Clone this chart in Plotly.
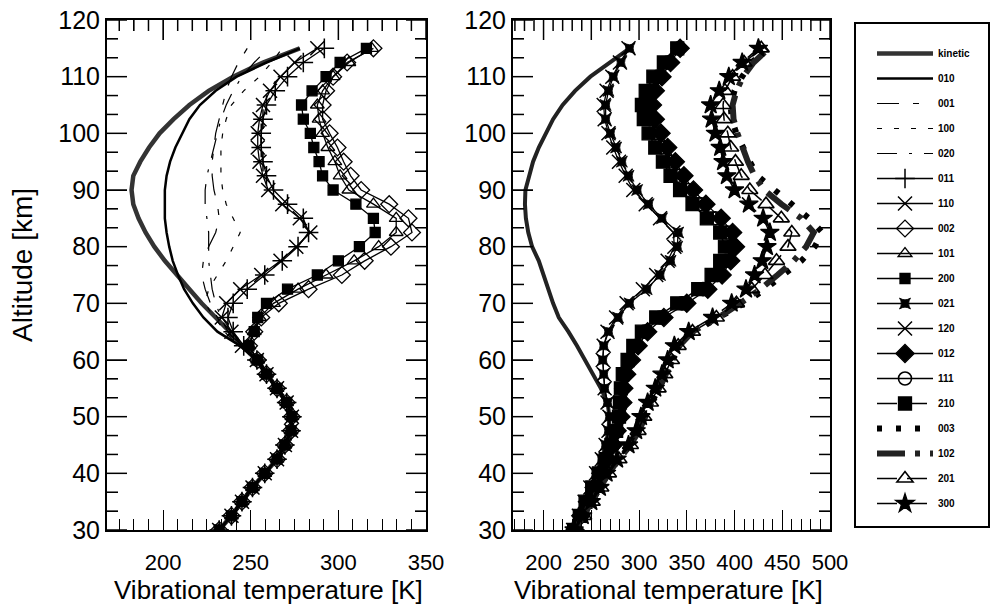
import plotly.graph_objects as go

# ---------------- data ----------------
alt = [30 + 2.5 * i for i in range(35)]

# left panel
kin_L = [232, 239, 245, 251, 258, 265, 269.5, 273, 273.5, 270.5, 265, 259, 253.5, 245, 238, 230, 222, 215,
         208, 201, 195, 190, 186, 183, 182, 183, 187, 192, 198, 206, 215, 226, 240, 257, 278]
v010 = [232, 239, 245, 251, 258, 265, 269.5, 273, 273.5, 270.5, 265, 259, 253.5, 244, 231, 223, 217, 212,
        208.5, 205.5, 203.5, 202, 201, 201, 201, 202, 204, 207, 211, 215, 221, 230, 242, 259, 278]
v001 = [232, 239, 245, 251, 258, 265, 269.5, 273, 273.5, 270.5, 265, 259, 253.5, 243, 235, 231, 227, 224,
        222, 223, 226, 230, 232, 231, 229, 228, 228, 229, 230, 232, 234, 236, 239, 243, 248]
v100 = [232, 239, 245, 251, 258, 265, 269.5, 273, 273.5, 270.5, 265, 259, 253.5, 244, 236, 229, 224, 226,
        231, 236, 240, 244, 240, 236, 234, 233, 233, 233, 234, 236, 239, 246, 255, 262, 268]
v020 = [232, 239, 245, 251, 258, 265, 269.5, 273, 273.5, 270.5, 265, 259, 253.5, 244, 237, 233, 230, 228,
        227, 226, 226, 226, 225, 224, 224, 225, 227, 229, 231, 233, 236, 240, 245, 252, 260]
v011 = [232, 239, 245, 251, 258, 265, 269.5, 273, 273.5, 270.5, 265, 259, 253.5, 246, 240, 237, 240, 248,
        258, 268, 277, 283, 280, 271, 263, 259, 257, 256, 256, 257, 259, 264, 271, 280, 292]
v110 = [232, 239, 245, 251, 258, 265, 269.5, 273, 273.5, 270.5, 265, 259, 253.5, 245, 239, 233.5, 236, 244,
        256, 267, 276, 284, 278, 268, 260, 257, 255, 254, 254, 255, 257, 261, 267, 275, 288]
v002 = [232, 239, 245, 251, 258, 265, 269.5, 273, 273.5, 270.5, 265, 259, 254, 249, 252, 256, 266, 283,
        302, 315, 330, 342, 340, 329, 313, 307, 303, 299.5, 295, 291, 291, 293, 297, 305, 320]
v101 = [232, 239, 245, 251, 258, 265, 269.5, 273, 273.5, 270.5, 265, 259, 254, 249, 252, 255, 263, 277,
        293, 309, 323, 333, 333, 320, 306, 301, 298, 294, 291, 289, 288, 291, 297, 306, 319]
v200 = [232, 239, 245, 251, 258, 265, 269.5, 273, 273.5, 270.5, 265, 259, 254, 249, 252, 254, 259, 271,
        288, 300, 312, 321, 320, 310, 297, 291, 289, 286, 284, 280, 279, 285, 293, 301, 316]

# right panel
kin_R = [231, 237, 243, 249, 255, 261, 265, 268, 269, 267, 260, 252, 244, 235, 226, 216, 210, 205,
         201, 195, 188, 184, 181.5, 180.5, 181, 184.5, 189, 195, 202, 210, 220, 233, 249, 270, 290]
v021 = [231, 237, 243, 249, 255, 261, 265, 268, 269, 267, 264, 263, 262, 263, 268, 278, 290, 308,
        322, 333, 340, 341, 324, 310, 298, 289, 282, 276, 270, 265, 265, 268, 273, 281, 290]
v120 = [231, 237, 243, 249, 255, 261, 265, 268, 269, 267, 264, 263, 262, 263, 267, 276, 287, 304,
        318, 330, 337, 336, 322, 307, 294, 286, 279, 273, 268, 264, 263, 266, 272, 280, 289]
v012 = [233, 239, 246, 253, 260, 267, 273, 277, 281, 283, 284, 287, 292, 299, 309, 326, 350, 372,
        387, 396, 401, 398, 386, 370, 357, 347, 338, 330, 323, 317, 314, 317, 324, 333, 343]
v111 = [233, 239, 246, 253, 260, 267, 273, 277, 280, 281, 282, 285, 290, 297, 306, 322, 345, 367,
        382, 391, 396, 393, 380, 364, 351, 341, 332, 324, 317, 311, 309, 312, 320, 330, 342]
v210 = [232, 238, 244, 251, 258, 265, 271, 276, 279, 280, 281, 283, 288, 294, 303, 318, 340, 362,
        376, 385, 390, 385, 371, 356, 343, 333, 325, 317, 310, 305, 303, 307, 315, 326, 340]
v003 = [233, 242, 251, 260, 268, 279, 291, 300, 306, 313, 321, 328, 335, 342, 357, 385, 410, 432,
        452, 470, 484, 492, 478, 460, 441, 424, 416, 409, 402, 397, 396, 400, 408, 418, 434]
v102 = [233, 242, 251, 260, 268, 279, 291, 300, 306, 313, 321, 328, 335, 342, 356, 383, 406, 427,
        445, 462, 475, 483, 470, 449, 431, 421, 414, 408, 403, 399, 398, 402, 409, 420, 436]
v201 = [233, 242, 251, 260, 268, 279, 291, 299, 305, 312, 320, 327, 334, 341, 356, 381, 402, 418,
        432, 444, 456, 460, 449, 433, 416, 407, 401, 396, 393, 389, 388, 390, 398, 410, 428]
v300 = [232, 241, 250, 259, 266, 277, 289, 297, 302, 309, 317, 324, 330, 337, 352, 377, 397, 412,
        421, 429, 434, 437, 430, 415, 400, 392, 388, 385, 380, 376, 375, 384, 394, 408, 425]

x_ticks_L = [200, 250, 300, 350]
x_ticks_R = [200, 250, 300, 350, 400, 450, 500]
y_ticks = [30, 40, 50, 60, 70, 80, 90, 100, 110, 120]
x_title = "Vibrational temperature [K]"
y_title = "Altitude [km]"

# ---------------- figure ----------------
W, H = 992, 609
fig = go.Figure()
BLK = "#000000"

XL = [168, 350]
XR = [168, 500]
YR = [30, 120]
DOM_L = [107 / W, 426 / W]
DOM_R = [513 / W, 830 / W]
y_dom = [1 - 530 / H, 1 - 20 / H]
plot_h = (y_dom[1] - y_dom[0]) * H


def add(x, name, xa, ya, show=True, group=None, line=None, marker=None, mode="lines"):
    fig.add_trace(go.Scatter(
        x=x, y=alt, name=name, xaxis=xa, yaxis=ya, mode=mode,
        line=line or dict(color=BLK, width=1.3),
        marker=marker, showlegend=show, legendgroup=group or name,
        hoverinfo="skip"))


def mk(symbol, size=11, lw=1.3):
    return dict(symbol=symbol, size=size, color=BLK, line=dict(color=BLK, width=lw))


add(kin_L, "kinetic", "x", "y", line=dict(color="#333333", width=4.5))
add(kin_R, "kinetic", "x2", "y2", show=False, group="kinetic", line=dict(color="#222222", width=4))
add(v010, "010", "x", "y", line=dict(color=BLK, width=2.5))
add(v001, "001", "x", "y", line=dict(color=BLK, width=1.2, dash="22px,14px,6px,14px"))
add(v100, "100", "x", "y", line=dict(color=BLK, width=1.2, dash="5px,12px"))
add(v020, "020", "x", "y", line=dict(color=BLK, width=1.2, dash="20px,12px,3px,12px"))
add(v011, "011", "x", "y", mode="lines+markers", marker=mk("cross-thin", 14, lw=1.5))
add(v110, "110", "x", "y", mode="lines+markers", marker=mk("x-thin", 14, lw=1.5))
add(v002, "002", "x", "y", mode="lines+markers", marker=mk("diamond-open", 13))
add(v101, "101", "x", "y", mode="lines+markers", marker=mk("triangle-up-open", 12))
add(v200, "200", "x", "y", mode="lines+markers", marker=mk("square", 10))

add(v021, "021", "x2", "y2", mode="lines+markers", marker=mk("star-square", 10, lw=0.8))
add(v120, "120", "x2", "y2", mode="lines+markers", marker=mk("x-thin", 14, lw=1.5))
add(v012, "012", "x2", "y2", mode="lines+markers", marker=mk("diamond", 14))
add(v111, "111", "x2", "y2", mode="lines+markers", marker=mk("circle-open", 13, lw=1.6))
add(v210, "210", "x2", "y2", mode="lines+markers", marker=mk("square", 13),
    line=dict(color=BLK, width=1.5, dash="20px,10px"))
add(v003, "003", "x2", "y2", line=dict(color=BLK, width=6, dash="5px,14px"))
add(v102, "102", "x2", "y2", line=dict(color="#222222", width=6, dash="28px,10px,5px,10px"))
add(v201, "201", "x2", "y2", mode="lines+markers", marker=mk("triangle-up-open", 14, lw=1.6),
    line=dict(color=BLK, width=1.5, dash="20px,10px"))
add(v300, "300", "x2", "y2", mode="lines+markers", marker=mk("star", 14),
    line=dict(color=BLK, width=1.5, dash="20px,10px"))


# ---- inside ticks on the left/right/top frame edges, as shapes in data coordinates ----
def frame_tick_shapes(xref, yref, xr, dom, major_x, minor_x_step, minor_x0):
    plot_w = (dom[1] - dom[0]) * W
    kx = (xr[1] - xr[0]) / plot_w
    ky = (YR[1] - YR[0]) / plot_h
    out = []
    ln_style = dict(color=BLK, width=1.5)
    minor_y = [YR[0] + i * 10 / 3 for i in range(28) if i % 3 != 0]
    for vals, ln in ((y_ticks, 20), (minor_y, 11)):
        for v in vals:
            out.append(dict(type="line", xref=xref, yref=yref, x0=xr[0], x1=xr[0] + ln * kx,
                            y0=v, y1=v, line=ln_style, layer="above"))
            out.append(dict(type="line", xref=xref, yref=yref, x0=xr[1], x1=xr[1] - ln * kx,
                            y0=v, y1=v, line=ln_style, layer="above"))
    minor_x = []
    k = 0
    while minor_x0 + k * minor_x_step <= xr[1] + 1e-6:
        v = minor_x0 + k * minor_x_step
        if v >= xr[0] and all(abs(v - m) > 1e-6 for m in major_x):
            minor_x.append(v)
        k += 1
    for vals, ln in ((major_x, 20), (minor_x, 11)):
        for v in vals:
            out.append(dict(type="line", xref=xref, yref=yref, x0=v, x1=v,
                            y0=YR[1], y1=YR[1] - ln * ky, line=ln_style, layer="above"))
    return out


tick_shapes = (frame_tick_shapes("x", "y", XL, DOM_L, x_ticks_L, 50 / 6, 175)
               + frame_tick_shapes("x2", "y2", XR, DOM_R, x_ticks_R, 10, 170))

FONT = "Liberation Sans, Arial, sans-serif"

base = dict(showline=True, linecolor=BLK, linewidth=2, showgrid=False, zeroline=False,
            ticks="inside", ticklen=20, tickcolor=BLK)

fig.update_layout(
    template="none",
    width=W, height=H, margin=dict(l=0, r=0, t=0, b=0),
    paper_bgcolor="white", plot_bgcolor="white",
    font=dict(family=FONT, color=BLK),
    xaxis=dict(domain=DOM_L, range=XL, tickvals=x_ticks_L,
               mirror="allticks", minor=dict(dtick=50 / 6, tick0=200, ticks="inside", ticklen=11, tickcolor=BLK),
               ticklabelstandoff=12, anchor="y",
               tickfont=dict(family=FONT, size=22, color=BLK), **base),
    yaxis=dict(domain=y_dom, range=YR, tickvals=y_ticks, mirror="allticks",
               minor=dict(dtick=10 / 3, tick0=30, ticks="inside", ticklen=11, tickcolor=BLK),
               anchor="x", tickfont=dict(family=FONT, size=25, color=BLK), **base),
    xaxis2=dict(domain=DOM_R, range=XR, tickvals=x_ticks_R,
                mirror=True, minor=dict(dtick=10, tick0=200, ticks="inside", ticklen=11, tickcolor=BLK),
                ticklabelstandoff=12, anchor="y2", tickfont=dict(family=FONT, size=22, color=BLK), **base),
    yaxis2=dict(domain=y_dom, range=YR, tickvals=y_ticks, mirror="allticks",
                minor=dict(dtick=10 / 3, tick0=30, ticks="inside", ticklen=11, tickcolor=BLK),
                anchor="x2", tickfont=dict(family=FONT, size=25, color=BLK), **base),
    legend=dict(x=872 / W, y=1 - 39 / H, xanchor="left", yanchor="top",
                bgcolor="rgba(0,0,0,0)", borderwidth=0,
                font=dict(family=FONT, size=10, color=BLK, weight="bold"),
                tracegroupgap=6, itemwidth=56, traceorder="grouped"),
    shapes=[dict(type="rect", xref="paper", yref="paper", x0=855 / W, x1=989 / W,
                 y0=1 - 527 / H, y1=1 - 23 / H, line=dict(color=BLK, width=2))] + tick_shapes,
    annotations=[
        dict(text=x_title, xref="paper", yref="paper", x=268 / W, y=1 - 590 / H, showarrow=False,
             xanchor="center", yanchor="middle", font=dict(family=FONT, size=26, color=BLK)),
        dict(text=x_title, xref="paper", yref="paper", x=668 / W, y=1 - 590 / H, showarrow=False,
             xanchor="center", yanchor="middle", font=dict(family=FONT, size=26, color=BLK)),
        dict(text=y_title, xref="paper", yref="paper", x=22 / W, y=1 - 265 / H, showarrow=False,
             textangle=-90, xanchor="center", yanchor="middle", font=dict(family=FONT, size=28, color=BLK)),
    ],
)

fig.write_html("out.html")
